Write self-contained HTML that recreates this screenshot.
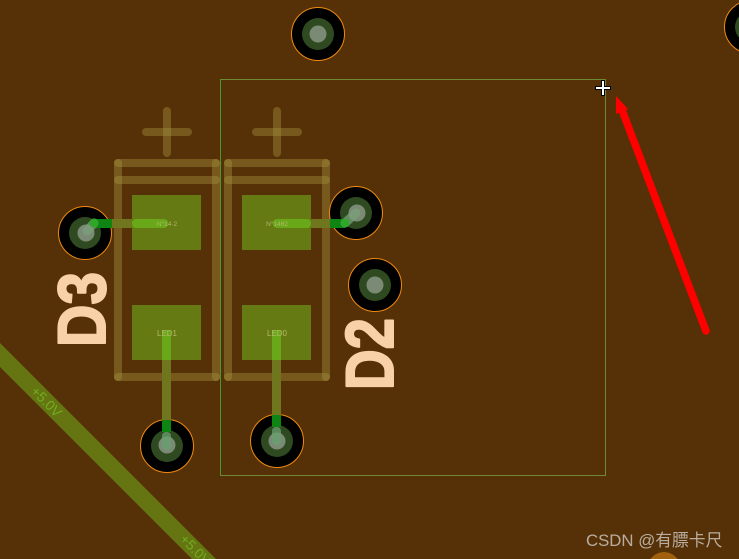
<!DOCTYPE html>
<html><head><meta charset="utf-8"><style>
html,body{margin:0;padding:0;background:#563006}
svg{display:block}
</style></head><body>
<svg xmlns="http://www.w3.org/2000/svg" width="739" height="559" viewBox="0 0 739 559">
<rect width="739" height="559" fill="#563006"/>
<!-- power trace -->
<polygon points="0,343 216,559 192,559 0,367" fill="#647512"/>
<g font-family="'Liberation Sans',sans-serif" font-size="14" fill="#70ae1e">
<text transform="translate(30,392) rotate(45)">+5.0V</text>
<text transform="translate(179,540) rotate(45)">+5.0V</text>
</g>
<!-- pads -->
<g fill="#667a14">
<rect x="132" y="195" width="69" height="55"/><rect x="242" y="195" width="69" height="55"/>
<rect x="132" y="305" width="69" height="55"/><rect x="242" y="305" width="69" height="55"/>
</g>
<!-- silkscreen -->
<g stroke="#a08c3c" stroke-opacity=".45" stroke-width="8" stroke-linecap="round" fill="none">
<path d="M118 163H216"/><path d="M118 180H216"/><path d="M118 377H216"/>
<path d="M118 163V377"/><path d="M216 163V377"/>
<path d="M228 163H326"/><path d="M228 180H326"/><path d="M228 377H326"/>
<path d="M228 163V377"/><path d="M326 163V377"/>
<path d="M146 132H188"/><path d="M167 111V153"/><path d="M256 132H298"/><path d="M277 111V153"/>
</g>
<!-- vias -->
<g id="vias">
<g fill="#000" stroke="#f08a10" stroke-width="1">
<circle cx="318" cy="34" r="26.5"/><circle cx="751" cy="27" r="26.5"/><circle cx="85" cy="233" r="26.5"/>
<circle cx="356" cy="213" r="26.5"/><circle cx="375" cy="285" r="26.5"/><circle cx="167" cy="446" r="26.5"/><circle cx="277" cy="441" r="26.5"/>
</g>
<g fill="#2f4a20">
<circle cx="318" cy="34" r="16"/><circle cx="751" cy="27" r="16"/><circle cx="85" cy="233" r="16"/>
<circle cx="356" cy="213" r="16"/><circle cx="375" cy="285" r="16"/><circle cx="167" cy="446" r="16"/><circle cx="277" cy="441" r="16"/>
</g>
<g fill="#7a8a74">
<circle cx="318" cy="34" r="8.5"/><circle cx="751" cy="27" r="8.5"/><circle cx="86" cy="233" r="8.5"/>
<circle cx="357" cy="213" r="8.5"/><circle cx="375" cy="285" r="8.5"/><circle cx="167" cy="445" r="8.5"/><circle cx="277" cy="441" r="8.5"/>
</g>
</g>
<!-- traces -->
<g fill="#0e8412">
<rect x="162" y="420" width="9" height="12"/><rect x="272" y="415" width="9" height="12"/>
<rect x="94" y="219" width="18" height="9"/><rect x="330" y="219" width="15" height="9"/>
</g>
<g fill="#6f761e">
<rect x="162" y="360" width="9" height="60"/><rect x="272" y="360" width="9" height="55"/>
<rect x="112" y="219" width="20" height="9"/><rect x="311" y="219" width="19" height="9"/>
</g>
<g fill="#69a818">
<rect x="162" y="330" width="9" height="30"/><rect x="272" y="330" width="9" height="30"/>
<rect x="132" y="219" width="36" height="9" rx="4"/><rect x="273" y="219" width="38" height="9" rx="4"/>
</g>
<g fill="#6aa070" opacity=".75">
<rect x="162" y="432" width="9" height="18" rx="4"/><rect x="272" y="427" width="9" height="18" rx="4"/>
</g>
<path d="M87 231L94 223M356 213L345 223" stroke="#7ca07a" stroke-width="9" stroke-linecap="round" opacity=".75"/>
<circle cx="94" cy="223" r="4.500" fill="#2fa52a"/><circle cx="345" cy="223" r="4.500" fill="#2fa52a"/>
<!-- pad labels -->
<g font-family="'Liberation Sans',sans-serif" font-size="6.500" fill="#b3b86a" text-anchor="middle">
<text x="167" y="226">N°14·2</text><text x="277" y="226">N°14θ2</text>
<text x="167" y="336" font-size="8">LED1</text><text x="277" y="336" font-size="8">LED0</text>
</g>
<!-- designators -->
<g font-family="'Liberation Sans',sans-serif" font-weight="bold" font-size="68" fill="#f9d1a9" stroke="#f9d1a9" stroke-width="2" stroke-linejoin="round">
<text transform="translate(105,347) rotate(-90)" textLength="75" lengthAdjust="spacingAndGlyphs">D3</text>
<text transform="translate(393,390) rotate(-90)" textLength="72" lengthAdjust="spacingAndGlyphs">D2</text>
</g>
<!-- selection box -->
<rect x="220.500" y="79.500" width="385" height="396" fill="none" stroke="#6f8a35" stroke-width="1"/>
<line x1="220.500" y1="79" x2="220.500" y2="476" stroke="#48992c" stroke-width="1"/>
<!-- red arrow -->
<path d="M706 331L622 110" stroke="#fe0000" stroke-width="7.500" stroke-linecap="round" fill="none"/>
<polygon points="616,96 628,109 616,114" fill="#fe0000"/>
<!-- cursor -->
<path d="M603 80V96M595 88H611" stroke="#000" stroke-width="4"/>
<path d="M603 81V95M596 88H610" stroke="#fff" stroke-width="2"/>
<!-- bottom -->
<circle cx="664" cy="568.500" r="16.500" fill="#a0600c"/>
<text x="586" y="546" font-family="'Liberation Sans','Noto Sans CJK SC',sans-serif" font-size="16.800" fill="#b8aea0">CSDN @有膘卡尺</text>
</svg>
</body></html>
